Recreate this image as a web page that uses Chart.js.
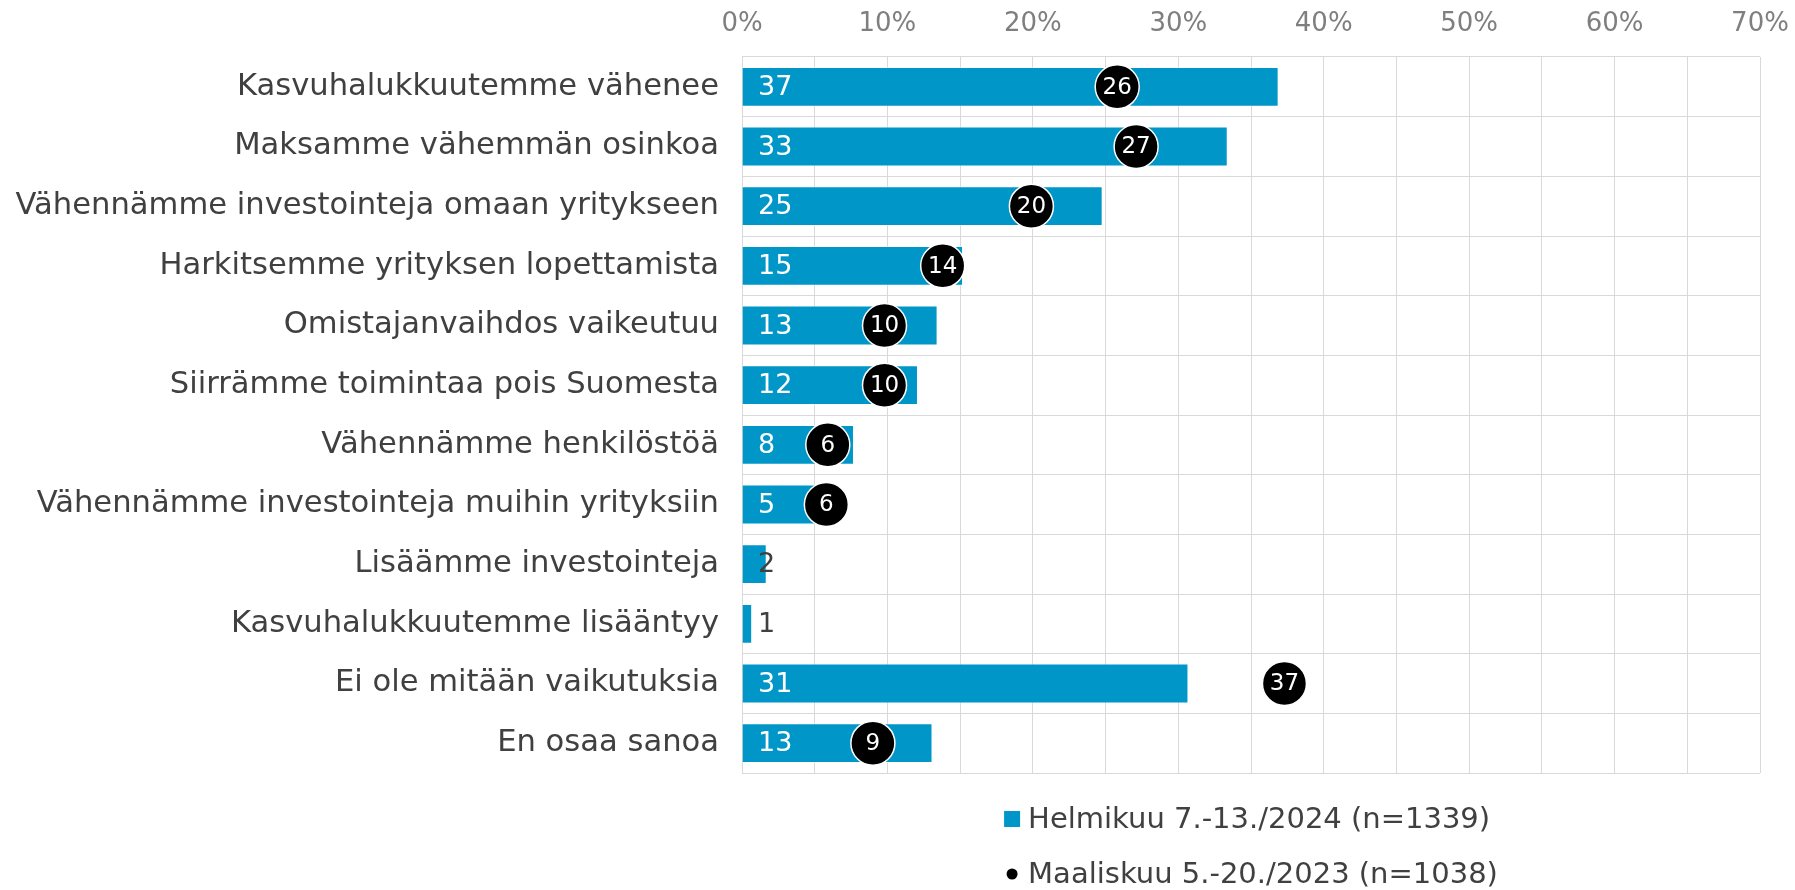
<!DOCTYPE html>
<html>
<head>
<meta charset="utf-8">
<script src="https://cdn.jsdelivr.net/npm/chart.js@4.4.1/dist/chart.umd.min.js"></script>
<style>
    html, body { margin: 0; padding: 0; background: #ffffff; }
    #wrap { width: 1795px; height: 890px; }
</style>
</head>
<body>
<div id="wrap"><canvas id="myChart" width="1795" height="890"></canvas></div>
<script>
// Categories (top to bottom)
const categories = [
    'Kasvuhalukkuutemme vähenee',
    'Maksamme vähemmän osinkoa',
    'Vähennämme investointeja omaan yritykseen',
    'Harkitsemme yrityksen lopettamista',
    'Omistajanvaihdos vaikeutuu',
    'Siirrämme toimintaa pois Suomesta',
    'Vähennämme henkilöstöä',
    'Vähennämme investointeja muihin yrityksiin',
    'Lisäämme investointeja',
    'Kasvuhalukkuutemme lisääntyy',
    'Ei ole mitään vaikutuksia',
    'En osaa sanoa'
];

// Series values (%)
const values2024 = [36.9, 33.4, 24.8, 15.2, 13.45, 12.1, 7.7, 5.1, 1.7, 0.7, 30.7, 13.1];
const values2023 = [25.8, 27.1, 19.9, 13.8, 9.8, 9.8, 5.9, 5.8, null, null, 37.3, 9.0];

const seriesNames = ['Helmikuu 7.-13./2024 (n=1339)', 'Maaliskuu 5.-20./2023 (n=1038)'];

// Axis ticks
const xTicks = [0, 10, 20, 30, 40, 50, 60, 70];

const FONT = "'DejaVu Sans', Verdana, sans-serif";
const BLUE = '#0096c8';
const TEXT = '#404040';

// Draws the value labels on bars and points
const valueLabels = {
    id: 'valueLabels',
    afterDatasetsDraw(chart) {
        const ctx = chart.ctx;
        const x0 = chart.scales.x.getPixelForValue(0);
        ctx.save();
        ctx.textBaseline = 'middle';

        // bar labels, left side of the bar
        const barMeta = chart.getDatasetMeta(1);
        ctx.font = '27px ' + FONT;
        ctx.textAlign = 'left';
        barMeta.data.forEach((bar, i) => {
            const v = values2024[i];
            ctx.fillStyle = v >= 3 ? '#ffffff' : TEXT;
            ctx.fillText(String(Math.round(v)), x0 + 16, bar.y + 1);
        });

        // point labels, centered in the circle
        const pointMeta = chart.getDatasetMeta(0);
        ctx.font = '23px ' + FONT;
        ctx.textAlign = 'center';
        ctx.fillStyle = '#ffffff';
        pointMeta.data.forEach((pt, i) => {
            const v = values2023[i];
            if (v === null || pt.skip) return;
            ctx.fillText(String(Math.round(v)), pt.x, pt.y + 1);
        });
        ctx.restore();
    }
};

// Legend in two rows under the plot
const stackedLegend = {
    id: 'stackedLegend',
    afterDraw(chart) {
        const ctx = chart.ctx;
        const area = chart.chartArea;
        ctx.save();
        ctx.font = '29px ' + FONT;
        ctx.textBaseline = 'middle';
        ctx.textAlign = 'left';
        const widths = seriesNames.map(n => ctx.measureText(n).width);
        const blockW = 24 + Math.max(...widths);
        const left = (area.left + area.right) / 2 - blockW / 2;
        const rows = [819, 874];

        // blue square
        ctx.fillStyle = BLUE;
        ctx.fillRect(left, rows[0] - 8, 16, 16);
        // black dot
        ctx.fillStyle = '#000000';
        ctx.beginPath();
        ctx.arc(left + 8, rows[1], 5.5, 0, Math.PI * 2);
        ctx.fill();

        ctx.fillStyle = TEXT;
        ctx.fillText(seriesNames[0], left + 24, rows[0] + 1);
        ctx.fillText(seriesNames[1], left + 24, rows[1] + 1);
        ctx.restore();
    }
};

const data = {
    labels: categories,
    datasets: [
        {
            type: 'line',
            label: seriesNames[1],
            data: values2023,
            showLine: false,
            pointRadius: 22,
            pointHoverRadius: 22,
            pointBackgroundColor: '#000000',
            pointBorderColor: '#ffffff',
            pointBorderWidth: 1.5,
            order: 0
        },
        {
            type: 'bar',
            label: seriesNames[0],
            data: values2024,
            backgroundColor: BLUE,
            borderColor: 'rgba(255,255,255,0.45)',
            borderWidth: 1,
            barPercentage: 0.667,
            categoryPercentage: 1,
            order: 1
        }
    ]
};

const config = {
    type: 'bar',
    data,
    options: {
        indexAxis: 'y',
        responsive: false,
        animation: false,
        layout: {
            padding: { top: 0, right: 35, bottom: 117, left: 0 }
        },
        scales: {
            x: {
                position: 'top',
                min: 0,
                max: 70,
                afterFit: scale => {
                    scale.height = 57;
                    // no extra room for the last tick label
                    scale.paddingLeft = 0;
                    scale.paddingRight = 0;
                },
                afterBuildTicks: scale => {
                    // gridlines every 5 %, labels only at 10 %
                    const t = [];
                    for (let v = 0; v <= 70; v += 5) t.push({ value: v });
                    scale.ticks = t;
                },
                grid: {
                    color: '#d9d9d9',
                    drawTicks: false
                },
                border: { display: false },
                ticks: {
                    padding: 17,
                    color: '#7f7f7f',
                    font: { size: 26, family: FONT },
                    callback: v => xTicks.includes(v) ? v + '%' : ''
                }
            },
            y: {
                afterFit: scale => { scale.width = 742; },
                grid: {
                    color: '#d9d9d9',
                    drawTicks: false,
                    offset: true
                },
                border: { display: false },
                ticks: {
                    padding: 23,
                    color: TEXT,
                    font: { size: 30.6, family: FONT }
                }
            }
        },
        plugins: {
            legend: { display: false },
            tooltip: { enabled: false }
        }
    },
    plugins: [valueLabels, stackedLegend]
};

window.myChart = new Chart(document.getElementById('myChart'), config);
</script>
</body>
</html>
